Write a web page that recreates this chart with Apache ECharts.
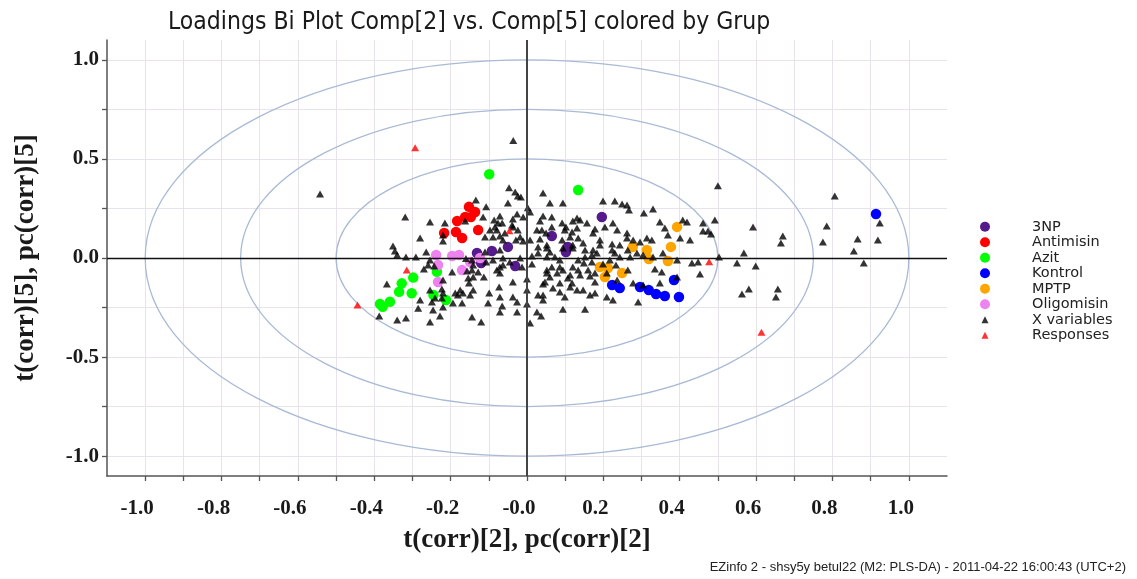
<!DOCTYPE html>
<html><head><meta charset="utf-8">
<script src="https://cdn.jsdelivr.net/npm/echarts@6/dist/echarts.min.js"></script>
<style>html,body{margin:0;padding:0;background:#fff}#c{width:1137px;height:579px}</style>
</head><body><div id="c"></div>
<script>
const titleText = 'Loadings Bi Plot Comp[2] vs. Comp[5] colored by Grup';
const footText = 'EZinfo 2 - shsy5y betul22 (M2: PLS-DA) - 2011-04-22 16:00:43 (UTC+2)';
const xName = 't(corr)[2], pc(corr)[2]';
const yName = 't(corr)[5], pc(corr)[5]';

const xTickValues = [-1.0,-0.9,-0.8,-0.7,-0.6,-0.5,-0.4,-0.3,-0.2,-0.1,0,0.1,0.2,0.3,0.4,0.5,0.6,0.7,0.8,0.9,1.0];
const xLabelValues = [-1.0,-0.8,-0.6,-0.4,-0.2,0,0.2,0.4,0.6,0.8,1.0];
const xTickLabels = ['-1.0','-0.8','-0.6','-0.4','-0.2','-0.0','0.2','0.4','0.6','0.8','1.0'];
const yTickValues = [-1,-0.75,-0.5,-0.25,0,0.25,0.5,0.75,1];
const yLabelValues = [-1,-0.5,0,0.5,1];
const yTickLabels = ['-1.0','-0.5','0.0','0.5','1.0'];
const ellipseRadii = [0.5, 0.75, 1.0];

const groupNames = ['3NP','Antimisin','Azit','Kontrol','MPTP','Oligomisin'];
const groupColors = ['#551a8b','#ff0000','#00ff00','#0000ff','#ffa500','#ee82ee'];

const np3 = [[0.196,0.207],[0.065,0.111],[0.107,0.056],[0.102,0.030],[-0.050,0.056],[-0.092,0.035],[-0.131,0.025],[-0.031,-0.040],[-0.120,-0.025]];
const antimisin = [[-0.152,0.258],[-0.162,0.207],[-0.147,0.207],[-0.183,0.187],[-0.217,0.126],[-0.186,0.131],[-0.170,0.101],[-0.128,0.141],[-0.136,0.232]];
const azit = [[-0.099,0.423],[0.134,0.343],[-0.236,-0.069],[-0.298,-0.099],[-0.328,-0.128],[-0.335,-0.170],[-0.302,-0.178],[-0.359,-0.221],[-0.385,-0.232],[-0.378,-0.246],[-0.245,-0.187],[-0.212,-0.212]];
const kontrol = [[0.223,-0.136],[0.243,-0.152],[0.296,-0.146],[0.319,-0.162],[0.338,-0.182],[0.361,-0.192],[0.398,-0.197],[0.385,-0.111],[0.914,0.222]];
const mptp = [[0.393,0.157],[0.377,0.056],[0.314,0.040],[0.319,-0.005],[0.369,-0.015],[0.277,0.056],[0.191,-0.045],[0.212,-0.051],[0.249,-0.076],[0.204,-0.096]];
const oligomisin = [[-0.238,0.015],[-0.233,-0.035],[-0.196,0.010],[-0.178,0.015],[-0.170,-0.061],[-0.233,-0.121],[-0.123,0.000],[-0.149,-0.020]];
const responses = [[-0.293,0.556],[-0.315,-0.061],[-0.444,-0.237],[-0.046,0.138],[0.477,-0.019],[0.614,-0.375]];

const xVariables = [
[0.500,0.364],[0.806,0.313],[0.492,0.192],[0.461,0.177],[0.461,0.136],[0.474,0.136],[0.482,0.121],[0.592,0.157],[0.670,0.111],[0.665,0.076],[0.785,0.162],[0.775,0.081],[0.866,0.096],[0.924,0.177],[0.919,0.091],[0.856,0.035],[0.882,-0.025],[0.503,0.005],[0.568,0.025],[0.550,-0.025],[0.599,-0.040],[0.453,-0.081],[0.581,-0.157],[0.563,-0.182],[0.657,-0.157],[0.652,-0.197],[-0.542,0.323],[-0.036,0.593],
[-0.319,0.207],[-0.254,0.182],[-0.162,0.187],[-0.134,0.293],[-0.280,0.101],[-0.351,0.061],[-0.346,0.035],[-0.340,0.015],[-0.317,0.005],[-0.291,0.005],[-0.264,0.030],[-0.254,-0.010],[-0.259,-0.035],[-0.270,-0.056],[-0.243,-0.040],[-0.196,-0.071],[-0.220,-0.111],[-0.367,-0.131],[-0.254,-0.162],[-0.220,-0.177],[-0.188,-0.177],[-0.175,-0.162],[-0.280,-0.212],[-0.285,-0.253],[-0.246,-0.263],[-0.220,-0.247],[-0.194,-0.227],[-0.170,-0.227],[-0.228,-0.293],[-0.254,-0.323],[-0.317,-0.303],[-0.340,-0.313],[-0.387,-0.293],[-0.144,-0.298],[-0.141,-0.096],[-0.152,-0.126],[-0.141,-0.162],[-0.149,-0.187],[-0.144,-0.010],[-0.144,-0.061],[-0.220,0.116],[-0.215,0.177],[-0.220,0.086],[-0.160,-0.003],[-0.157,-0.066],[-0.141,-0.035],[-0.128,-0.071],[-0.181,-0.187],[-0.223,-0.157],[-0.223,-0.202],[-0.241,-0.202],[-0.249,-0.222],[-0.154,-0.101],[-0.168,-0.177],
[-0.107,0.258],[-0.115,0.207],[-0.086,0.192],[-0.071,0.212],[-0.047,0.354],[-0.031,0.333],[-0.024,0.313],[-0.016,0.308],[-0.050,0.278],[0.002,0.253],[0.008,0.232],[-0.076,0.177],[-0.084,0.157],[-0.065,0.177],[-0.037,0.197],[-0.026,0.222],[-0.039,0.167],[-0.010,0.207],[-0.097,0.141],[-0.079,0.141],[-0.110,0.106],[-0.089,0.106],[-0.071,0.111],[-0.058,0.126],[-0.037,0.157],[-0.024,0.141],[-0.063,0.091],[-0.018,0.106],[0.008,0.091],[0.034,0.096],[0.029,0.056],[0.052,0.051],[-0.010,0.086],[-0.029,0.091],[-0.071,0.040],[-0.110,0.030],[0.013,0.010],[0.052,0.005],[0.029,0.025],[-0.018,0.000],[-0.063,0.000],[-0.089,-0.010],[-0.045,-0.020],[-0.063,-0.035],[-0.107,-0.020],[-0.071,-0.045],[-0.079,-0.061],[-0.013,-0.045],[0.013,-0.030],[-0.071,-0.076],[-0.113,-0.096],[-0.073,-0.146],[-0.071,-0.197],[-0.099,-0.177],[-0.102,-0.227],[-0.065,-0.242],[-0.071,-0.273],[-0.037,-0.121],[-0.037,-0.197],[-0.026,-0.222],[-0.026,-0.273],[0.000,-0.106],[0.000,-0.162],[0.000,-0.232],[0.029,-0.187],[0.026,-0.273],[0.037,-0.293],[0.047,-0.121],[0.008,-0.328],[-0.120,-0.323],[0.042,0.328],[0.060,0.278],[0.042,0.212],[0.034,0.187],[0.039,0.141],[0.026,0.141],[0.050,0.126],[0.042,-0.131],
[0.094,0.278],[0.065,0.207],[0.092,0.177],[0.102,0.157],[0.131,0.202],[0.120,0.187],[0.139,0.192],[0.157,0.177],[0.199,0.288],[0.230,0.288],[0.249,0.273],[0.262,0.268],[0.267,0.242],[0.306,0.227],[0.330,0.247],[0.225,0.177],[0.204,0.157],[0.178,0.146],[0.173,0.126],[0.236,0.141],[0.262,0.126],[0.065,0.157],[0.113,0.106],[0.134,0.101],[0.092,0.091],[0.094,0.051],[0.120,0.051],[0.152,0.040],[0.173,0.040],[0.183,0.025],[0.223,0.040],[0.230,0.025],[0.243,0.066],[0.264,0.040],[0.191,0.091],[0.086,-0.010],[0.086,-0.045],[0.094,-0.061],[0.120,-0.045],[0.134,-0.061],[0.149,-0.025],[0.160,-0.061],[0.170,-0.020],[0.199,-0.030],[0.139,-0.086],[0.113,-0.086],[0.052,-0.061],[0.060,-0.096],[0.065,-0.045],[0.348,0.182],[0.361,0.152],[0.369,0.116],[0.401,0.101],[0.408,0.192],[0.419,0.182],[0.427,0.091],[0.432,-0.025],[0.448,-0.020],[0.393,-0.096],[0.353,-0.071],[0.335,-0.056],[0.348,-0.126],[0.304,-0.136],[0.278,-0.126],[0.264,-0.061],[0.270,0.005],[0.243,0.005],[0.233,-0.035],[0.217,-0.010],[0.236,-0.111],[0.209,-0.076],[0.178,-0.076],[0.178,-0.121],[0.165,-0.091],[0.134,-0.010],[0.152,0.005],[0.170,0.015],[0.191,0.066],[0.223,0.071],[0.262,0.101],[0.278,0.091],[0.296,0.081],[0.314,0.101],[0.327,0.091],[0.288,0.025],[0.304,0.015],[0.330,0.005],[0.356,0.025],[0.393,-0.010],[0.120,0.066],[0.147,0.076],[0.099,0.141],[0.118,0.131],[0.131,0.152],[0.052,0.066],[0.060,0.030],[0.073,0.005],[0.052,-0.076],[0.079,-0.076],[0.107,-0.101],[0.086,-0.126],[0.118,-0.126],[0.131,-0.162],[0.147,-0.162],[0.165,-0.187],[0.099,-0.197],[0.209,-0.197],[0.225,-0.212],[0.291,-0.222],[0.042,-0.187],[0.042,-0.212],[0.068,-0.152],[0.113,-0.146],[0.152,-0.258],[0.178,-0.177],[0.086,-0.172],[0.094,-0.258]
];

const groupData = [np3, antimisin, azit, kontrol, mptp, oligomisin];

const chart = echarts.init(document.getElementById('c'), null, {renderer: 'canvas'});

function pickLabel(values, labels) {
  return function (v) {
    for (let i = 0; i < values.length; i++) if (Math.abs(values[i] - v) < 1e-6) return labels[i];
    return '';
  };
}

const axisLabelFont = {fontFamily: '"Liberation Serif", "Times New Roman", serif', fontWeight: 'bold', fontSize: 21, color: '#1a1a1a'};
const axisNameFont = {fontFamily: '"Liberation Serif", "Times New Roman", serif', fontWeight: 'bold', fontSize: 27, color: '#1a1a1a'};

const series = [];
series.push({
  type: 'custom', name: 'ellipses', silent: true, z: 1,
  data: ellipseRadii,
  renderItem: function (params, api) {
    const r = api.value(0);
    const c = api.coord([0, 0]);
    const rx = api.size([r, 0])[0];
    const ry = api.size([0, r])[1];
    return {type: 'ellipse', shape: {cx: c[0], cy: c[1], rx: rx, ry: ry},
      style: {fill: 'none', stroke: '#a9bad6', lineWidth: 1.3}};
  },
  encode: {x: -1, y: -1}
});
series.push({
  type: 'scatter', name: 'zero', silent: true, data: [], z: 2,
  markLine: {silent: true, symbol: 'none', label: {show: false}, animation: false,
    data: [
      {xAxis: 0, lineStyle: {color: '#444', width: 2, type: 'solid'}},
      {yAxis: 0, lineStyle: {color: '#111', width: 1.3, type: 'solid'}}
    ]}
});
groupNames.forEach(function (n, i) {
  series.push({type: 'scatter', name: n, data: groupData[i], symbol: 'circle', symbolSize: 10.5,
    itemStyle: {color: groupColors[i], opacity: 1}, z: 3});
});
series.push({type: 'scatter', name: 'X variables', data: xVariables, symbol: 'triangle', symbolSize: [8, 7],
  itemStyle: {color: '#000'}, z: 4});
series.push({type: 'scatter', name: 'Responses', data: responses, symbol: 'triangle', symbolSize: [8, 7],
  itemStyle: {color: '#ff0000'}, z: 5});

const legendText = {fontFamily: '"DejaVu Sans", Verdana, sans-serif', fontSize: 14.5, color: '#222', lineHeight: 15.5};

const option = {
  animation: false,
  backgroundColor: '#fff',
  title: [
    {text: titleText, left: 163, top: 5,
      textStyle: {fontFamily: '"Liberation Sans Narrow", "DejaVu Sans Condensed", "Liberation Sans", sans-serif', fontWeight: 'normal', fontSize: 24.5, color: '#1a1a1a'}},
    {text: footText, right: 6, bottom: 0,
      textStyle: {fontFamily: '"Liberation Sans", Arial, sans-serif', fontWeight: 'normal', fontSize: 13, color: '#222'}}
  ],
  legend: [
    {orient: 'vertical', left: 975, top: 214, itemWidth: 10, itemHeight: 10, itemGap: 0,
      data: groupNames.map(function (n) { return {name: n, icon: 'circle'}; }),
      textStyle: Object.assign({padding: [0, 0, 0, 37]}, legendText), selectedMode: false},
    {orient: 'vertical', left: 976.5, top: 214 + 6 * 15.5, itemWidth: 7, itemHeight: 7, itemGap: 0,
      data: [{name: 'X variables', icon: 'triangle'}, {name: 'Responses', icon: 'triangle'}],
      textStyle: Object.assign({padding: [0, 0, 0, 38.5]}, legendText), selectedMode: false}
  ],
  grid: {left: 107, right: 190, top: 40, bottom: 103, containLabel: false},
  xAxis: {
    type: 'value', min: -1.1, max: 1.1, interval: 0.05,
    name: xName, nameLocation: 'middle', nameGap: 51, nameTextStyle: axisNameFont,
    axisLine: {show: true, onZero: false, lineStyle: {color: '#555', width: 1.5}},
    axisTick: {show: true, customValues: xTickValues, length: 5, lineStyle: {color: '#555', width: 1.3}},
    axisLabel: Object.assign({customValues: xLabelValues, margin: 22, padding: [0, 16, 0, 0],
      formatter: pickLabel(xLabelValues, xTickLabels)}, axisLabelFont),
    splitLine: {show: true, lineStyle: {color: '#e8e2ea', width: 1}}
  },
  yAxis: {
    type: 'value', min: -1.1, max: 1.1, interval: 0.1,
    name: yName, nameLocation: 'middle', nameGap: 67, nameRotate: 90, nameTextStyle: axisNameFont,
    axisLine: {show: true, onZero: false, lineStyle: {color: '#555', width: 1.5}},
    axisTick: {show: true, customValues: yTickValues, length: 5, lineStyle: {color: '#555', width: 1.3}},
    axisLabel: Object.assign({customValues: yLabelValues, margin: 8,
      formatter: pickLabel(yLabelValues, yTickLabels)}, axisLabelFont),
    splitLine: {show: true, lineStyle: {color: '#e8e2ea', width: 1}}
  },
  series: series
};
chart.setOption(option);
</script>
</body></html>
